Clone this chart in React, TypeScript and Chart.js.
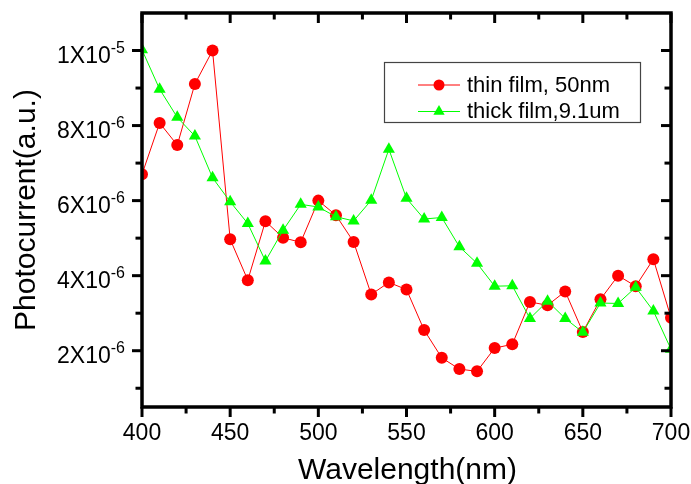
import React, { useEffect, useRef } from "react";
import { Chart, registerables } from "chart.js";

Chart.register(...registerables);

// ---- data ----
const wavelengths = [
  400, 410, 420, 430, 440, 450, 460, 470, 480, 490, 500, 510, 520, 530, 540, 550,
  560, 570, 580, 590, 600, 610, 620, 630, 640, 650, 660, 670, 680, 690, 700,
];
const thinFilm = [
  6.7e-6, 8.07e-6, 7.48e-6, 9.11e-6, 1.0e-5, 4.97e-6, 3.88e-6, 5.45e-6, 5.01e-6, 4.89e-6,
  6.0e-6, 5.61e-6, 4.9e-6, 3.5e-6, 3.82e-6, 3.63e-6, 2.55e-6, 1.81e-6, 1.51e-6, 1.45e-6,
  2.07e-6, 2.17e-6, 3.3e-6, 3.21e-6, 3.58e-6, 2.5e-6, 3.37e-6, 4.0e-6, 3.72e-6, 4.44e-6,
  2.88e-6,
];
const thickFilm = [
  1.002e-5, 8.97e-6, 8.22e-6, 7.72e-6, 6.61e-6, 5.97e-6, 5.39e-6, 4.39e-6, 5.21e-6, 5.9e-6,
  5.83e-6, 5.57e-6, 5.46e-6, 6.01e-6, 7.37e-6, 6.06e-6, 5.51e-6, 5.55e-6, 4.77e-6, 4.33e-6,
  3.72e-6, 3.73e-6, 2.86e-6, 3.32e-6, 2.86e-6, 2.49e-6, 3.27e-6, 3.26e-6, 3.69e-6, 3.06e-6,
  2.04e-6,
];
const seriesNames = ["thin film, 50nm", "thick film,9.1um"];
const seriesColors = ["#ff0000", "#00ff00"];

const xMajorTicks = [400, 450, 500, 550, 600, 650, 700];
const xTickLabels = ["400", "450", "500", "550", "600", "650", "700"];
const xMinorTicks = [425, 475, 525, 575, 625, 675];
const yMajorTicks = [2e-6, 4e-6, 6e-6, 8e-6, 1e-5];
const yTickMantissa = ["2", "4", "6", "8", "1"];
const yTickExponent = ["-6", "-6", "-6", "-6", "-5"];
const yMinorTicks = [1e-6, 3e-6, 5e-6, 7e-6, 9e-6];
const xTitle = "Wavelength(nm)";
const yTitle = "Photocurrent(a.u.)";

const FONT = '"Liberation Sans", Arial, Helvetica, sans-serif';

function drawTriangle(ctx: CanvasRenderingContext2D, x: number, y: number, r: number) {
  ctx.beginPath();
  let rad = 0;
  ctx.moveTo(x + Math.sin(rad) * r, y - Math.cos(rad) * r);
  rad += (2 * Math.PI) / 3;
  ctx.lineTo(x + Math.sin(rad) * r, y - Math.cos(rad) * r);
  rad += (2 * Math.PI) / 3;
  ctx.lineTo(x + Math.sin(rad) * r, y - Math.cos(rad) * r);
  ctx.closePath();
  ctx.fill();
}

const framePlugin = {
  id: "originFrame",
  afterDraw(chart: any) {
    const { ctx, chartArea: a, scales } = chart;
    const xs = scales.x;
    const ys = scales.y;
    ctx.save();
    ctx.strokeStyle = "#000";
    ctx.fillStyle = "#000";
    ctx.lineWidth = 3;
    const seg = (x1: number, y1: number, x2: number, y2: number) => {
      ctx.beginPath();
      ctx.moveTo(x1, y1);
      ctx.lineTo(x2, y2);
      ctx.stroke();
    };
    const majorLen = 10;
    const minorLen = 6.5;
    xMajorTicks.forEach((v) => {
      const x = xs.getPixelForValue(v);
      seg(x, a.bottom, x, a.bottom + majorLen);
      seg(x, a.top, x, a.top + majorLen);
    });
    xMinorTicks.forEach((v) => {
      const x = xs.getPixelForValue(v);
      seg(x, a.bottom, x, a.bottom + minorLen);
      seg(x, a.top, x, a.top + minorLen);
    });
    yMajorTicks.forEach((v) => {
      const y = ys.getPixelForValue(v);
      seg(a.left - majorLen, y, a.left, y);
      seg(a.right - majorLen, y, a.right, y);
    });
    yMinorTicks.forEach((v) => {
      const y = ys.getPixelForValue(v);
      seg(a.left - minorLen, y, a.left, y);
      seg(a.right - minorLen, y, a.right, y);
    });
    // frame
    ctx.lineWidth = 3.5;
    ctx.lineJoin = "miter";
    ctx.strokeRect(a.left, a.top, a.right - a.left, a.bottom - a.top);

    // x tick labels
    ctx.font = `23px ${FONT}`;
    ctx.textAlign = "center";
    ctx.textBaseline = "alphabetic";
    xMajorTicks.forEach((v, i) => {
      ctx.fillText(xTickLabels[i], xs.getPixelForValue(v), a.bottom + 33);
    });

    // y tick labels with superscript exponents
    const labelRight = a.left - 17;
    yMajorTicks.forEach((v, i) => {
      const y = ys.getPixelForValue(v);
      ctx.textAlign = "right";
      ctx.font = `16px ${FONT}`;
      const supW = ctx.measureText(yTickExponent[i]).width;
      ctx.fillText(yTickExponent[i], labelRight, y + 2);
      ctx.font = `23px ${FONT}`;
      ctx.fillText(`${yTickMantissa[i]}X10`, labelRight - supW, y + 12);
    });

    // axis titles
    ctx.font = `30px ${FONT}`;
    ctx.textAlign = "center";
    ctx.fillText(xTitle, (a.left + a.right) / 2 + 1, a.bottom + 72);
    ctx.save();
    ctx.translate(35, (a.top + a.bottom) / 2 + 0);
    ctx.rotate(-Math.PI / 2);
    ctx.fillText(yTitle, 0, 0);
    ctx.restore();

    // legend
    const bx = 384.5, by = 62.5, bw = 256, bh = 60;
    ctx.fillStyle = "#fff";
    ctx.fillRect(bx, by, bw, bh);
    ctx.strokeStyle = "#444";
    ctx.lineWidth = 1.2;
    ctx.strokeRect(bx, by, bw, bh);
    const rows = [85, 111.5];
    rows.forEach((ry, i) => {
      ctx.strokeStyle = seriesColors[i];
      ctx.lineWidth = 1;
      seg(418, ry, 460, ry);
      ctx.fillStyle = seriesColors[i];
      if (i === 0) {
        ctx.beginPath();
        ctx.arc(439, ry, 5.5, 0, Math.PI * 2);
        ctx.fill();
      } else {
        drawTriangle(ctx, 439, ry, 6.5);
      }
      ctx.fillStyle = "#000";
      ctx.font = `22px ${FONT}`;
      ctx.textAlign = "left";
      ctx.fillText(seriesNames[i], 467, ry + 6.5);
    });
    ctx.restore();
  },
};

export default function App() {
  const canvasRef = useRef<HTMLCanvasElement | null>(null);

  useEffect(() => {
    const canvas = canvasRef.current;
    if (!canvas) return;
    const thin = wavelengths.map((x, i) => ({ x, y: thinFilm[i] }));
    const thick = wavelengths.map((x, i) => ({ x, y: thickFilm[i] }));
    const chart = new Chart(canvas, {
      type: "line",
      data: {
        datasets: [
          {
            label: seriesNames[1],
            data: thick,
            borderColor: seriesColors[1],
            backgroundColor: seriesColors[1],
            borderWidth: 1,
            pointStyle: "triangle",
            pointRadius: 7,
            pointBorderWidth: 0,
            pointBackgroundColor: seriesColors[1],
            tension: 0,
          },
          {
            label: seriesNames[0],
            data: thin,
            borderColor: seriesColors[0],
            backgroundColor: seriesColors[0],
            borderWidth: 1,
            pointStyle: "circle",
            pointRadius: 6,
            pointBorderWidth: 0,
            pointBackgroundColor: seriesColors[0],
            tension: 0,
          },
        ],
      },
      options: {
        responsive: false,
        maintainAspectRatio: false,
        animation: false,
        events: [],
        layout: { padding: { left: 142, top: 13, right: 20, bottom: 77 } },
        plugins: {
          legend: { display: false },
          tooltip: { enabled: false },
          title: { display: false },
        },
        scales: {
          x: { type: "linear", min: 400, max: 700, display: false },
          y: { type: "linear", min: 0.5e-6, max: 1.1e-5, display: false },
        },
      },
      plugins: [framePlugin],
    } as any);
    return () => chart.destroy();
  }, []);

  return (
    <div
      style={{
        position: "fixed",
        left: 0,
        top: 0,
        width: 691,
        height: 484,
        background: "#fff",
      }}
    >
      <canvas ref={canvasRef} width={691} height={484} style={{ display: "block" }} />
    </div>
  );
}
